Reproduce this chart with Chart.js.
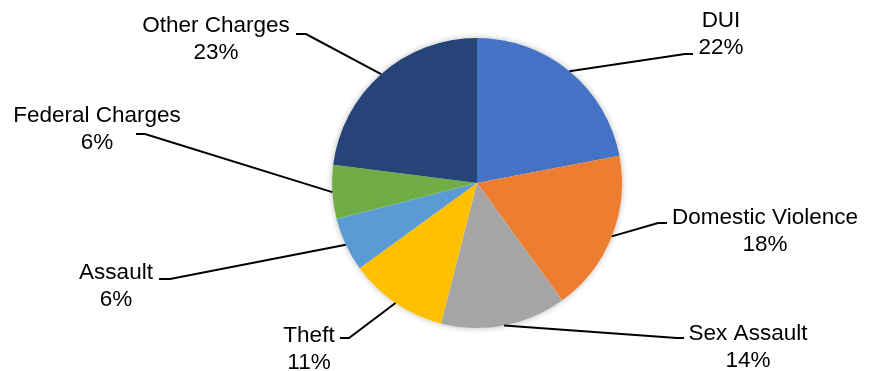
<!DOCTYPE html>
<html>
<head>
<meta charset="utf-8">
<script src="https://cdn.jsdelivr.net/npm/chart.js@4.4.0/dist/chart.umd.min.js"></script>
<style>
  html, body { margin: 0; padding: 0; background: #fff; }
  #wrap { width: 874px; height: 371px; }
</style>
</head>
<body>
<div id="wrap"><canvas id="PieChartCanvas" width="874" height="371"></canvas></div>
<script>
const categories = ['DUI', 'Domestic Violence', 'Sex Assault', 'Theft', 'Assault', 'Federal Charges', 'Other Charges'];
const shares = [22, 18, 14, 11, 6, 6, 23];
const sliceColors = ['#4472C4', '#ED7D31', '#A5A5A5', '#FFC000', '#5B9BD5', '#70AD47', '#264478'];

// label placement, offsets from the pie centre: text centre, leader elbow, hook direction
const labelLayout = [
  { tx: 244, ty: -162, ex: 208, ey: -129, hook: 8 },
  { tx: 288, ty: 35, ex: 181, ey: 40, hook: 9 },
  { tx: 271, ty: 151, ex: 200, ey: 155, hook: 7 },
  { tx: -168, ty: 153, ex: -128, ey: 155, hook: -9 },
  { tx: -361, ty: 90, ex: -307, ey: 96, hook: -11 },
  { tx: -380, ty: -67, ex: -332, ey: -49, hook: -9 },
  { tx: -261, ty: -157, ex: -171, ey: -149, hook: -10 },
];

const pieShadow = {
  id: 'pieShadow',
  beforeDatasetsDraw(chart) {
    const arc = chart.getDatasetMeta(0).data[0];
    if (!arc) return;
    const { ctx } = chart;
    ctx.save();
    ctx.shadowColor = 'rgba(0,0,0,0.28)';
    ctx.shadowBlur = 6;
    ctx.fillStyle = '#fff';
    ctx.beginPath();
    ctx.arc(arc.x, arc.y, arc.outerRadius, 0, Math.PI * 2);
    ctx.fill();
    ctx.restore();
  },
};

/* leader lines and two-line labels outside the pie */
const outsideLabels = {
  id: 'outsideLabels',
  afterDatasetsDraw(chart) {
    const { ctx } = chart;
    const meta = chart.getDatasetMeta(0);
    ctx.save();
    ctx.font = '22.5px "Liberation Sans", Arial, sans-serif';
    ctx.fillStyle = '#000';
    ctx.strokeStyle = '#000';
    ctx.lineWidth = 2;
    ctx.textAlign = 'center';
    ctx.textBaseline = 'middle';
    meta.data.forEach((arc, i) => {
      const lay = labelLayout[i];
      const mid = (arc.startAngle + arc.endAngle) / 2;
      const sx = arc.x + Math.cos(mid) * arc.outerRadius;
      const sy = arc.y + Math.sin(mid) * arc.outerRadius;
      const ex = arc.x + lay.ex;
      const ey = arc.y + lay.ey;
      ctx.beginPath();
      ctx.moveTo(sx, sy);
      ctx.lineTo(ex, ey);
      ctx.lineTo(ex + lay.hook, ey);
      ctx.stroke();
      const tx = arc.x + lay.tx;
      const ty = arc.y + lay.ty;
      ctx.fillText(categories[i], tx, ty);
      ctx.fillText(shares[i] + '%', tx, ty + 27);
    });
    ctx.restore();
  },
};

const ctx = document.getElementById('PieChartCanvas').getContext('2d');
window.PieChartRef = new Chart(ctx, {
  type: 'pie',
  data: {
    labels: categories,
    datasets: [{
      data: shares,
      backgroundColor: sliceColors,
      borderWidth: 0,
    }],
  },
  options: {
    responsive: false,
    animation: false,
    layout: { padding: { top: 38, bottom: 43, left: 80, right: 0 } },
    plugins: {
      legend: { display: false },
      tooltip: { enabled: false },
    },
  },
  plugins: [pieShadow, outsideLabels],
});
</script>
</body>
</html>
